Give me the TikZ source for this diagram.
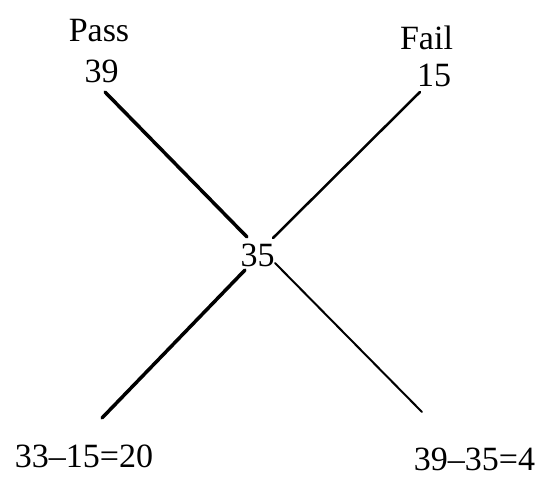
\documentclass[tikz,border=0pt]{standalone}
\usepackage{fontspec}
\setmainfont{Liberation Serif}
\begin{document}
\begin{tikzpicture}[x=1pt,y=-1pt,
  lbl/.style={anchor=base,inner sep=0pt,font=\fontsize{34}{40}\selectfont},
  thickline/.style={line width=3.5pt,line cap=round},
  thinline/.style={line width=2pt,line cap=round}]
\useasboundingbox[fill=white] (0,0) rectangle (541,478);
\node[lbl] (pass) at (99,42) {Pass};
\node[lbl] (n39) at (101.5,83) {39};
\node[lbl] (fail) at (426.5,50) {Fail};
\node[lbl] (n15) at (434,87) {15};
\node[lbl] (n35) at (257.5,267) {35};
\node[lbl] (bl) at (84,467) {33--15=20};
\node[lbl] (br) at (474.5,470) {39--35=4};
\coordinate (a1) at (105,92);
\coordinate (a2) at (247,237);
\coordinate (b1) at (420,92);
\coordinate (b2) at (273,238);
\coordinate (c1) at (245,270);
\coordinate (c2) at (102,418);
\coordinate (d1) at (275,263);
\coordinate (d2) at (422,412);
\draw[thickline] (a1) -- (a2);
\draw[thinline,line width=2.5pt] (b1) -- (b2);
\draw[thickline] (c1) -- (c2);
\draw[thinline,line width=2pt] (d1) -- (d2);
\end{tikzpicture}
\end{document}
